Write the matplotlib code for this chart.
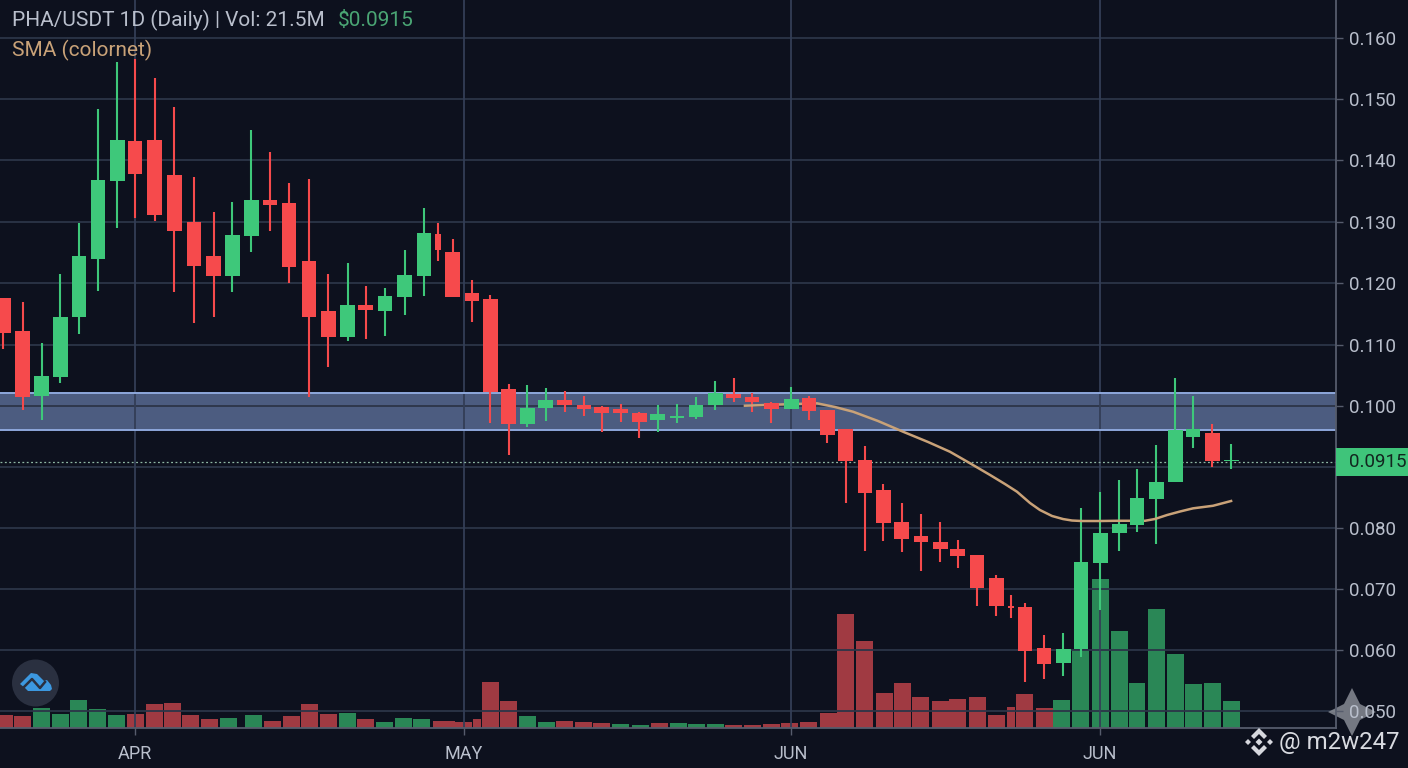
import matplotlib
matplotlib.use('Agg')
import matplotlib.pyplot as plt
from matplotlib.patches import Polygon, Circle, Rectangle

plt.rcParams['font.family'] = ['Roboto', 'DejaVu Sans']

# day number of each candle (1 day = 18.67 px on the chart)
days = [0.18, 1.22, 2.23, 3.23, 4.23, 5.25, 6.27, 7.23, 8.30, 9.34, 10.39, 11.45, 12.44, 13.46, 14.46, 15.48, 16.55,
        17.58, 18.62, 19.60, 20.62, 21.69, 22.71, 23.46, 24.26, 25.28, 26.25, 27.26, 28.23, 29.24, 30.26, 31.28, 32.24,
        33.26, 34.23, 35.24, 36.26, 37.28, 38.30, 39.31, 40.28, 41.30, 42.37, 43.33, 44.30, 45.31, 46.33, 47.30, 48.31,
        49.33, 50.35, 51.31, 52.33, 53.35, 54.15, 54.90, 55.92, 56.94, 57.90, 58.92, 59.94, 60.90, 61.92, 62.94, 63.90,
        64.92, 65.94]
opens = [.11760, .11226, .10168, .10469, .11449, .12402, .13681, .14335, .14341, .13779, .13007, .12456, .12129, .12783,
         .13371, .13312, .12369, .11552, .11123, .11650, .11557, .11786, .12129, .12806, .12511, .11846, .11743, .10273,
         .09706, .09967, .10093, .10016, .09979, .09946, .09881, .09771, .09804, .09815, .10011, .10201, .10147, .10044,
         .09956, .10126, .09935, .09619, .09113, .08627, .08100, .07871, .07778, .07658, .07560, .07190, .06732, .06721,
         .06051, .05796, .06024, .07440, .07920, .08056, .08480, .08753, .09498, .09559, .09096]
closes = [.11188, .10152, .10490, .11449, .12456, .13688, .14341, .13791, .13126, .12860, .12292, .12129, .12789, .13361,
          .13284, .12266, .11459, .11123, .11645, .11564, .11797, .12145, .12832, .12549, .11781, .11711, .10224, .09711,
          .09967, .10093, .10011, .09951, .09891, .09881, .09734, .09864, .09842, .10016, .10208, .10136, .10065, .09956,
          .10109, .09923, .09521, .09096, .08583, .08093, .07832, .07778, .07658, .07554, .07021, .06737, .06700, .06002,
          .05784, .06034, .07456, .07925, .08072, .08497, .08763, .09613, .09629, .09096, .09106]
highs = [.11765, .11704, .11029, .12157, .12990, .14853, .15626, .15670, .15360, .14891, .13742, .13170, .13333, .14510,
         .14150, .13644, .13709, .12157, .12337, .11961, .11928, .12549, .13235, .12995, .12729, .12059, .11814, .10359,
         .10343, .10289, .10240, .10158, .10000, .10033, .09907, .10016, .10028, .10152, .10409, .10453, .10208, .10065,
         .10306, .10163, .09935, .09619, .09341, .08721, .08415, .08240, .08100, .07815, .07565, .07243, .06912, .06776,
         .06258, .06286, .08328, .08600, .08791, .08975, .09363, .10453, .10168, .09706, .09374]
lows = [.10931, .09935, .09771, .10376, .11176, .11879, .12909, .13072, .13023, .11868, .11361, .11459, .11868, .12521,
        .12860, .12010, .10152, .10642, .11067, .11095, .11144, .11487, .11802, .12374, .11781, .11368, .09717, .09199,
        .09662, .09760, .09907, .09837, .09570, .09743, .09482, .09570, .09727, .09783, .09935, .10070, .09907, .09717,
        .09956, .09771, .09400, .08410, .07631, .07799, .07614, .07304, .07446, .07358, .06737, .06569, .06531, .05495,
        .05534, .05588, .05894, .06667, .07636, .07946, .07750, .08753, .09314, .08998, .08971]

vol_days = [0.24, 1.22, 2.22, 3.23, 4.23, 5.24, 6.24, 7.25, 8.25, 9.23, 10.23, 11.24, 12.24, 13.60, 14.59, 15.59, 16.60,
            17.60, 18.59, 19.60, 20.61, 21.62, 22.60, 23.78, 24.85, 25.55, 26.25, 27.26, 28.26, 29.27, 30.26, 31.25,
            32.24, 33.26, 34.28, 35.30, 36.32, 37.28, 38.30, 39.31, 40.28, 41.30, 42.31, 43.33, 44.35, 45.31, 46.33,
            47.35, 48.34, 49.33, 50.35, 51.31, 52.35, 53.35, 54.14, 54.88, 55.92, 56.88, 57.90, 58.92, 59.94, 60.90,
            61.92, 62.94, 63.90, 64.92, 65.94]
# volume in millions
volumes = [10.5, 9.7, 15.8, 11.3, 22.1, 15.2, 10.5, 10.8, 18.7, 19.8, 10.3, 6.9, 8.1, 10.3, 5.5, 9.2, 19.0, 11.1, 12.1,
           7.1, 4.7, 7.9, 7.3, 5.8, 5.0, 6.9, 36.1, 21.3, 9.5, 5.0, 5.8, 4.7, 3.7, 3.4, 2.6, 3.9, 4.2, 3.2, 3.2, 2.4, 2.4,
           3.2, 4.2, 4.5, 11.6, 89.8, 68.5, 27.4, 35.3, 24.3, 21.1, 22.9, 24.3, 10.5, 16.8, 27.1, 15.6, 21.9, 61.6, 117.5,
           76.9, 35.8, 93.8, 58.5, 34.5, 35.8, 21.5]
vol_up = [0, 0, 1, 1, 1, 1, 1, 0, 0, 0, 0, 0, 1, 1, 0, 0, 0, 0, 1, 0, 1, 1, 1, 0, 0, 0, 0, 0, 1, 1, 0, 0, 0, 1, 1, 0, 1,
          1, 1, 0, 0, 0, 0, 0, 0, 0, 0, 0, 0, 0, 0, 0, 0, 0, 0, 0, 0, 1, 1, 1, 1, 1, 1, 1, 1, 1, 1]

sma_days = [39.90, 41.78, 43.76, 44.72, 45.69, 47.03, 48.37, 49.71, 50.88, 51.96, 53.03, 53.83, 54.47, 55.17, 55.70,
            56.35, 56.94, 57.42, 57.95, 58.92, 59.83, 61.33, 61.86, 62.51, 63.20, 63.90, 64.97, 65.94]
sma_vals = [.10005, .10025, .10044, .09984, .09907, .09755, .09580, .09412, .09253, .09064, .08873, .08725, .08600,
            .08415, .08301, .08203, .08153, .08129, .08121, .08121, .08125, .08125, .08154, .08219, .08276, .08328,
            .08370, .08448]

# gridlines as they sit on the picture, the scale there is not quite even
price_levels = [.05020, .06010, .07010, .08010, .09000, .10000, .11005, .12005, .13007, .14020, .15016, .16021]
price_labels = ['0.050', '0.060', '0.070', '0.080', '', '0.100', '0.110', '0.120', '0.130', '0.140', '0.150', '0.160']
month_days = [7.23, 24.85, 42.37, 58.92]
month_names = ['APR', 'MAY', 'JUN', 'JUN']
zone = (0.09608, 0.1021)
last_price = 0.09093
last_label = '0.0915'

BG = '#0d111e'
GRID = '#2c3548'
UP = '#3ec87a'
DOWN = '#f64a4c'
VOL_UP = '#2a8756'
VOL_DOWN = '#a03a42'
TXT = '#b9bfcc'
PANEL = '#2a3040'

fig = plt.figure(figsize=(14.08, 7.68), dpi=100, facecolor=BG)
ax = fig.add_axes([0, 40 / 768, 1336 / 1408, 728 / 768], facecolor=BG)
ax.set_xlim(0, 1336 / 18.67)
ax.set_ylim(0.04739, 0.16634)

for t in price_levels:
    ax.axhline(t, color=GRID, lw=1.3, zorder=1)
for d in month_days:
    ax.axvline(d, color='#333e56', lw=1.3, zorder=1)
ax.axhspan(zone[0], zone[1], facecolor='#4c5c80', edgecolor='none', zorder=0.5)
ax.axhline(zone[0], color='#8ea8dc', lw=1.4, zorder=1.2)
ax.axhline(zone[1], color='#8ea8dc', lw=1.4, zorder=1.2)
ax.axhline(last_price, color='#8fb8a4', lw=0.9, ls=(0, (1.5, 2)), zorder=1.5)

# volume goes on its own scale, bottom of the pane
vax = ax.twinx()
vax.set_ylim(0, 575)
vax.axis('off')
vax.set_zorder(1)
ax.set_zorder(2)
ax.patch.set_visible(False)
vax.patch.set_visible(False)

for i in range(len(vol_days)):
    w = 0.91
    if i == 23:
        w = 1.19
    elif i in (25, 54):
        w = 0.42
    vax.bar(vol_days[i], volumes[i], width=w, color=VOL_UP if vol_up[i] else VOL_DOWN, linewidth=0)

for i in range(len(days)):
    col = UP if closes[i] >= opens[i] else DOWN
    w = 0.35 if i in (23, 54) else 0.8
    ax.plot([days[i], days[i]], [lows[i], highs[i]], color=col, lw=1.5, zorder=3, solid_capstyle='butt')
    bottom = min(opens[i], closes[i])
    height = max(abs(closes[i] - opens[i]), 0.00025)
    ax.bar(days[i], height, width=w, bottom=bottom, color=col, linewidth=0, zorder=4)

ax.plot(sma_days, sma_vals, color='#c9a278', lw=1.8, zorder=3.5, solid_joinstyle='round')

ax.spines[['top', 'left']].set_visible(False)
ax.spines['right'].set_color('#565c6c')
ax.spines['right'].set_linewidth(1.3)
ax.spines['bottom'].set_color('#565c6c')
ax.spines['bottom'].set_linewidth(1.3)
ax.yaxis.tick_right()
shown = [k for k in range(len(price_levels)) if price_labels[k]]
ax.set_yticks([price_levels[k] for k in shown])
ax.set_yticklabels([price_labels[k] for k in shown])
ax.tick_params(axis='y', colors=TXT, labelsize=13.5, length=5, width=1, pad=4.4, color='#565c6c')
ax.set_xticks(month_days)
ax.set_xticklabels(month_names)
ax.tick_params(axis='x', colors=TXT, labelsize=13, length=5, width=1, pad=7, color='#565c6c')

# everything that is not data sits on a pixel overlay
deco = fig.add_axes([0, 0, 1, 1], zorder=5)
deco.set_xlim(0, 1408)
deco.set_ylim(768, 0)
deco.axis('off')
deco.text(12, 20.5, 'PHA/USDT 1D (Daily) | Vol: 21.5M', color=TXT, fontsize=15, va='center')
deco.text(338, 20.5, '$0.0915', color='#4aa574', fontsize=15, va='center')
deco.text(12, 50.5, 'SMA (colornet)', color='#c9a278', fontsize=15, va='center')

deco.add_patch(Rectangle((1336, 448), 72, 28, facecolor='#3fc47a', edgecolor='none'))
deco.text(1349, 462, last_label, color='#12261f', fontsize=13.5, va='center')

# cloud badge
deco.add_patch(Circle((35.5, 683), 23.5, facecolor=PANEL, edgecolor='none'))
deco.add_patch(Polygon([(20, 684), (31, 673), (37, 674), (44, 681), (47, 680), (51, 685), (52, 689), (50, 691),
                        (28, 691), (25, 688)], facecolor='#3c98e0', edgecolor='none'))
deco.plot([23, 32, 40, 45], [688, 679, 688, 682], color=PANEL, lw=1.8)

# sparkle goes under the tick labels, so it hangs on the price axes
ax.add_patch(Polygon([(1352, 688), (1360, 704), (1376, 712), (1360, 720), (1352, 736), (1344, 720), (1328, 712),
                      (1344, 704)], facecolor='#8f939c', alpha=0.8, edgecolor='none', transform=deco.transData,
                     clip_on=False, zorder=1))

# binance mark
cx, cy = 1259, 742
for s in (-1, 1):
    deco.add_patch(Polygon([(cx, cy + s * 14), (cx + 8, cy + s * 6), (cx + 5, cy + s * 3), (cx, cy + s * 8),
                            (cx - 5, cy + s * 3), (cx - 8, cy + s * 6)], facecolor='#d6d8de', edgecolor='none'))
for dx, r in [(-11, 3), (0, 3.5), (11, 3)]:
    deco.add_patch(Polygon([(cx + dx, cy - r), (cx + dx + r, cy), (cx + dx, cy + r), (cx + dx - r, cy)],
                           facecolor='#d6d8de', edgecolor='none'))
deco.text(1279, 742, '@ m2w247', color='#d8dae0', fontsize=17.3, va='center')

fig.savefig('out.png', dpi=100, facecolor=BG)
